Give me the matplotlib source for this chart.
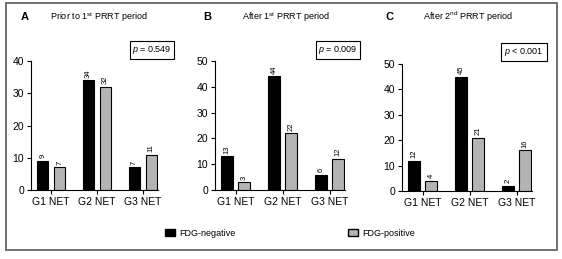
import numpy as np
import matplotlib.pyplot as plt
from matplotlib.patches import Rectangle, Patch

plt.rcParams['font.family'] = ['Liberation Sans', 'DejaVu Sans']
plt.rcParams['mathtext.fontset'] = 'custom'
plt.rcParams['mathtext.rm'] = 'Liberation Sans'
plt.rcParams['mathtext.it'] = 'Liberation Sans:italic'

# datos
grados = ["G1 NET", "G2 NET", "G3 NET"]
fdg_neg_a = [9, 34, 7]
fdg_pos_a = [7, 32, 11]
fdg_neg_b = [13, 44, 6]
fdg_pos_b = [3, 22, 12]
fdg_neg_c = [12, 45, 2]
fdg_pos_c = [4, 21, 16]
letras = ["A", "B", "C"]
titulos = [r"Prior to 1$^{\rm st}$ PRRT period",
           r"After 1$^{\rm st}$ PRRT period",
           r"After 2$^{\rm nd}$ PRRT period"]
p_textos = [r"$p$ = 0.549", r"$p$ = 0.009", r"$p$ < 0.001"]
ymax = [40, 50, 50]

W, H = 562, 259
fig = plt.figure(figsize=(W / 100, H / 100), dpi=100)

def caja(x0, y0, x1, y1):
    # coordenadas en pixeles (origen arriba-izquierda) -> fraccion de figura
    return [x0 / W, 1 - y1 / H, (x1 - x0) / W, (y1 - y0) / H]

# marco exterior
fig.patches.append(Rectangle((6 / W, 1 - 250 / H), 551 / W, 247 / H,
                             transform=fig.transFigure, fill=False,
                             edgecolor='#707070', linewidth=1.4))

ejes_px = [(31, 61, 158, 190), (215, 61, 345, 190), (402, 64, 532, 191)]
letra_px = [(21, 17), (203, 17), (386, 17)]
titulo_px = [(50, 17), (242, 17), (423, 17)]
p_px = [(152, 50), (338, 50), (524, 52)]

datos = [(fdg_neg_a, fdg_pos_a), (fdg_neg_b, fdg_pos_b), (fdg_neg_c, fdg_pos_c)]
x = np.arange(len(grados))
ancho = 0.25
off = 0.185

for i, (neg, pos) in enumerate(datos):
    ax = fig.add_axes(caja(*ejes_px[i]))
    b1 = ax.bar(x - off, neg, ancho, color='black', edgecolor='black', linewidth=0.8)
    b2 = ax.bar(x + off, pos, ancho, color='#b4b4b4', edgecolor='black', linewidth=0.8)
    for barras in (b1, b2):
        for r in barras:
            ax.text(r.get_x() + r.get_width() / 2, r.get_height() + ymax[i] * 0.02,
                    str(int(r.get_height())), rotation=90, ha='center', va='bottom',
                    fontsize=5.5)
    ax.set_xlim(-0.44, 2.33)
    ax.set_ylim(0, ymax[i])
    ax.set_yticks(np.arange(0, ymax[i] + 1, 10))
    ax.set_xticks(x)
    ax.set_xticklabels(grados)
    ax.tick_params(labelsize=7.5, length=3, width=0.8, pad=2)
    for lado in ['top', 'right']:
        ax.spines[lado].set_visible(False)
    for lado in ['left', 'bottom']:
        ax.spines[lado].set_linewidth(0.8)

    fig.text(letra_px[i][0] / W, 1 - letra_px[i][1] / H, letras[i],
             fontsize=8, fontweight='bold', va='center')
    fig.text(titulo_px[i][0] / W, 1 - titulo_px[i][1] / H, titulos[i],
             fontsize=6.5, va='center')
    fig.text(p_px[i][0] / W, 1 - p_px[i][1] / H, p_textos[i], fontsize=6.5,
             ha='center', va='center',
             bbox=dict(boxstyle='square,pad=0.3', facecolor='white',
                       edgecolor='black', linewidth=0.8))

# leyenda
leg1 = fig.legend(handles=[Patch(facecolor='black', edgecolor='black', label='FDG-negative')],
                  loc='center left', bbox_to_anchor=(157 / W, 1 - 233 / H),
                  frameon=False, fontsize=6.5, handlelength=1.1, handleheight=0.9,
                  handletextpad=0.5)
leg2 = fig.legend(handles=[Patch(facecolor='#b4b4b4', edgecolor='black', label='FDG-positive')],
                  loc='center left', bbox_to_anchor=(340 / W, 1 - 233 / H),
                  frameon=False, fontsize=6.5, handlelength=1.1, handleheight=0.9,
                  handletextpad=0.5)

fig.savefig('out.png', dpi=100)
